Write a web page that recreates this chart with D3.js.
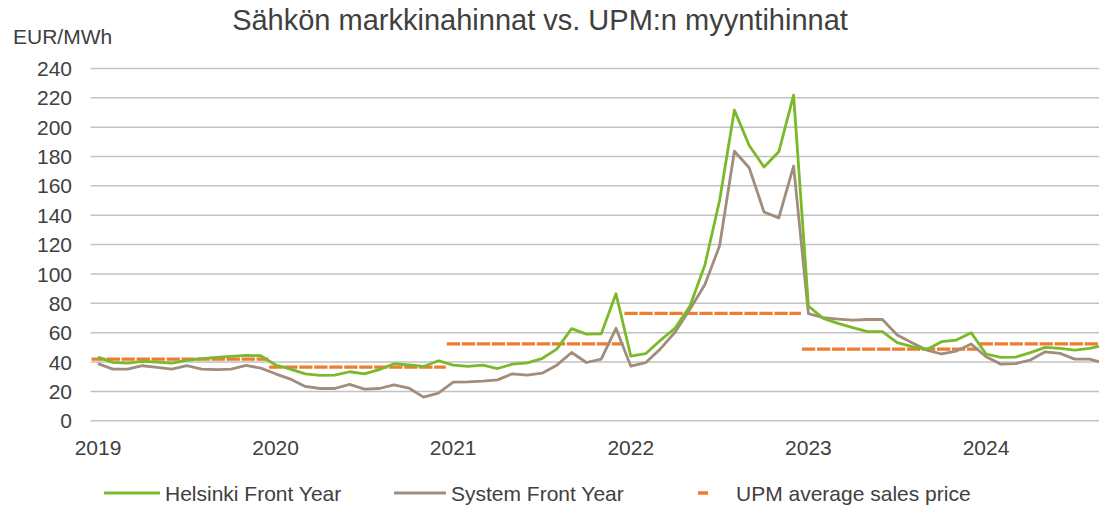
<!DOCTYPE html>
<html>
<head>
<meta charset="utf-8">
<title>Sähkön markkinahinnat vs. UPM:n myyntihinnat</title>
<style>
  body { margin: 0; background: #fff; }
  svg { display: block; font-family: "Liberation Sans", Arial, sans-serif; }
  .grid line { stroke: #c2c2c2; stroke-width: 1.5; }
  text { fill: #404040; }
</style>
</head>
<body>
<svg width="1099" height="507"></svg>
<script src="https://d3js.org/d3.v7.min.js"></script>
<script>
// data, monthly Jan 2019 .. Sep 2024 (EUR/MWh)
var years = [2019, 2020, 2021, 2022, 2023, 2024];

var helsinki = [
  43.4, 39.8, 39.3, 40.5, 40.0, 39.3, 41.1, 42.3, 43.2, 43.9, 44.5, 44.3,
  38.0, 35.2, 32.0, 30.9, 31.1, 33.4, 32.0, 34.8, 38.9, 38.0, 37.0, 40.9,
  37.9, 37.0, 37.9, 35.6, 38.6, 39.5, 42.4, 48.8, 62.8, 59.0, 59.2, 86.5,
  44.0, 45.7, 54.8, 63.2, 78.2, 105.9, 150.0, 211.6, 187.5, 172.8, 183.2, 221.8,
  78.2, 69.8, 66.4, 63.4, 60.7, 60.7, 53.2, 50.5, 48.6, 53.9, 55.0, 60.0,
  45.5, 43.2, 43.4, 46.4, 50.0, 49.3, 48.2, 49.3, 51.5
];

var system = [
  38.9, 35.2, 35.2, 37.5, 36.4, 35.2, 37.5, 35.2, 34.8, 35.2, 37.7, 35.9,
  32.0, 28.4, 23.4, 22.0, 22.0, 24.8, 21.6, 22.0, 24.5, 22.3, 16.1, 18.9,
  26.3, 26.5, 27.0, 27.9, 32.0, 31.1, 32.4, 37.9, 46.5, 39.7, 42.0, 63.0,
  37.2, 39.6, 49.0, 60.5, 76.0, 92.7, 119.2, 183.6, 172.3, 142.2, 138.2, 173.4,
  73.0, 70.2, 69.3, 68.6, 69.0, 69.0, 58.4, 53.2, 48.2, 45.5, 47.5, 52.3,
  43.6, 38.6, 39.0, 41.4, 47.0, 45.9, 42.0, 42.0, 39.2
];

// UPM average sales price per year
var upmPrice = [42.0, 36.5, 52.4, 73.2, 48.8, 52.4];

var yTicks = [0, 20, 40, 60, 80, 100, 120, 140, 160, 180, 200, 220, 240];

var legendItems = ["Helsinki Front Year", "System Front Year", "UPM average sales price"];

// month categories
var months = [];
years.forEach(function (y) {
  for (var m = 1; m <= 12; m++) months.push(y + "-" + (m < 10 ? "0" + m : m));
});
months = months.slice(0, helsinki.length);

var green = "#7ab929", brown = "#a08d7d", orange = "#ed7d31";

var svg = d3.select("svg");
var left = 90.6, step = 14.8;

var x = d3.scaleBand()
  .domain(months)
  .range([left, left + months.length * step])
  .padding(0);
var bw = x.bandwidth();
var cx = function (m) { return x(m) + bw / 2; };

var y = d3.scaleLinear().domain([0, 240]).range([420.8, 68.4]);

// gridlines
svg.append("g").attr("class", "grid")
  .selectAll("line")
  .data(yTicks)
  .enter().append("line")
  .attr("x1", left)
  .attr("x2", 1099)
  .attr("y1", function (d) { return y(d); })
  .attr("y2", function (d) { return y(d); });

// y tick labels
svg.append("g")
  .selectAll("text")
  .data(yTicks)
  .enter().append("text")
  .attr("x", 72)
  .attr("y", function (d) { return y(d); })
  .attr("dy", "0.36em")
  .attr("text-anchor", "end")
  .style("font-size", "21px")
  .text(function (d) { return d; });

// year labels under each January
svg.append("g")
  .selectAll("text")
  .data(years)
  .enter().append("text")
  .attr("x", function (d) { return cx(d + "-01"); })
  .attr("y", 455)
  .attr("text-anchor", "middle")
  .style("font-size", "21px")
  .text(function (d) { return d; });

// UPM yearly averages as dashed segments (last year runs to the end of the axis)
function yearEnd(d) {
  var dec = x(d + "-12");
  return dec === undefined ? x.range()[1] : dec + bw;
}

svg.append("g")
  .selectAll("line")
  .data(years)
  .enter().append("line")
  .attr("x1", function (d) { return x(d + "-01") + 1; })
  .attr("x2", yearEnd)
  .attr("y1", function (d, i) { return y(upmPrice[i]); })
  .attr("y2", function (d, i) { return y(upmPrice[i]); })
  .attr("stroke", orange)
  .attr("stroke-width", 3.2)
  .attr("stroke-dasharray", "13.3,1.7");

var line = d3.line()
  .x(function (d, i) { return cx(months[i]); })
  .y(function (d) { return y(d); });

svg.append("path")
  .datum(system)
  .attr("fill", "none")
  .attr("stroke", brown)
  .attr("stroke-width", 2.8)
  .attr("stroke-linejoin", "round")
  .attr("d", line);

svg.append("path")
  .datum(helsinki)
  .attr("fill", "none")
  .attr("stroke", green)
  .attr("stroke-width", 2.8)
  .attr("stroke-linejoin", "round")
  .attr("d", line);

// title + unit
svg.append("text")
  .attr("x", 540)
  .attr("y", 29.5)
  .attr("text-anchor", "middle")
  .style("font-size", "29px")
  .text("Sähkön markkinahinnat vs. UPM:n myyntihinnat");

svg.append("text")
  .attr("x", 13)
  .attr("y", 43.5)
  .style("font-size", "21px")
  .text("EUR/MWh");

// legend
var lg = svg.append("g");
lg.append("line").attr("x1", 104).attr("x2", 160).attr("y1", 493).attr("y2", 493)
  .attr("stroke", green).attr("stroke-width", 3);
lg.append("text").attr("x", 165).attr("y", 500.5).style("font-size", "21px").text(legendItems[0]);
lg.append("line").attr("x1", 394).attr("x2", 446).attr("y1", 493).attr("y2", 493)
  .attr("stroke", brown).attr("stroke-width", 3);
lg.append("text").attr("x", 451).attr("y", 500.5).style("font-size", "21px").text(legendItems[1]);
lg.append("line").attr("x1", 698).attr("x2", 708).attr("y1", 493).attr("y2", 493)
  .attr("stroke", orange).attr("stroke-width", 3.5);
lg.append("text").attr("x", 736).attr("y", 500.5).style("font-size", "21px").text(legendItems[2]);
</script>
</body>
</html>
